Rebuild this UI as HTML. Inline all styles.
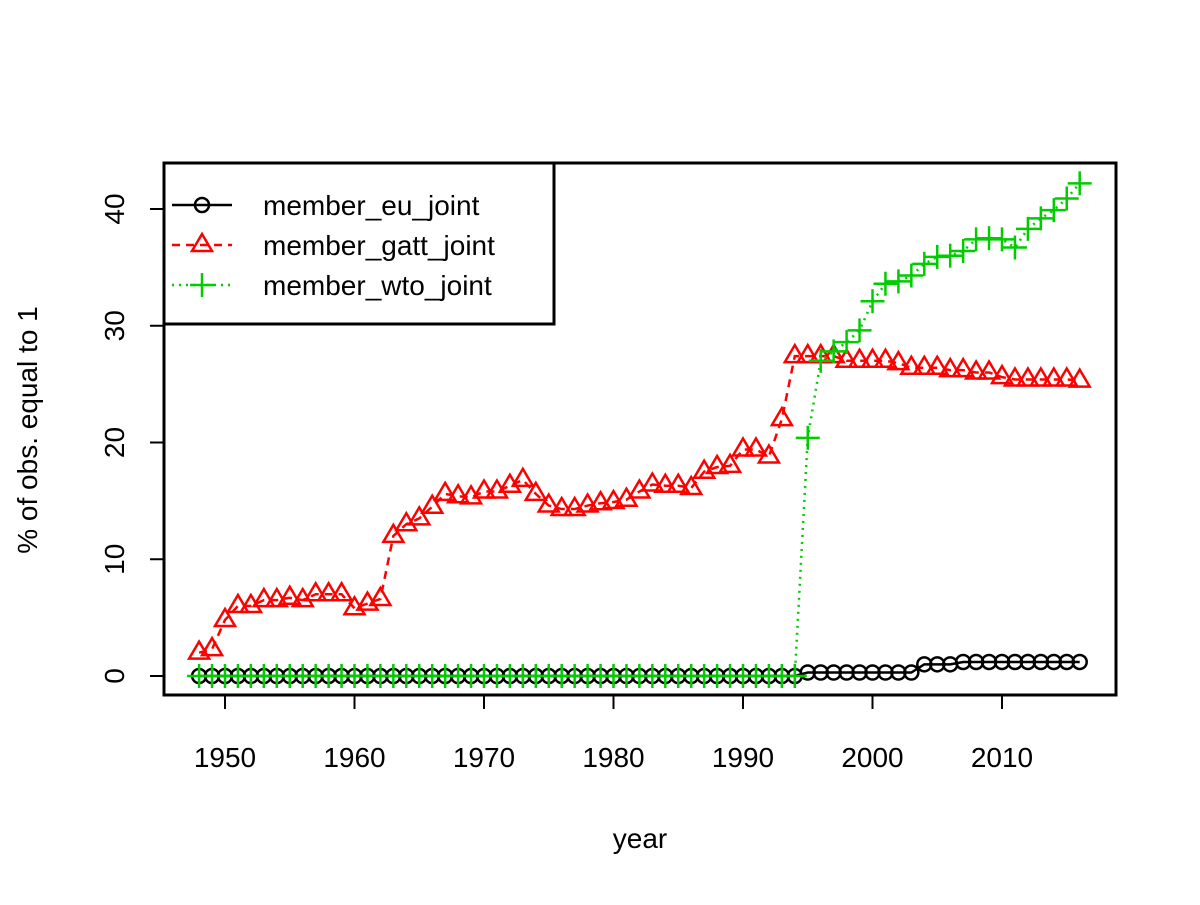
<!DOCTYPE html>
<html><head><meta charset="utf-8"><style>body{margin:0;background:#fff}svg text{font-family:"Liberation Sans",Helvetica,sans-serif}</style></head>
<body>
<svg id="c" width="1200" height="900" xmlns="http://www.w3.org/2000/svg"></svg>
<script>
const years=[];for(let y=1948;y<=2016;y++)years.push(y);
const euValues=[0,0,0,0,0,0,0,0,0,0,0,0,0,0,0,0,0,0,0,0,0,0,0,0,0,0,0,0,0,0,0,0,0,0,0,0,0,0,0,0,0,0,0,0,0,0,0,0.3,0.3,0.3,0.3,0.3,0.3,0.3,0.3,0.3,1.0,1.0,1.0,1.2,1.2,1.2,1.2,1.2,1.2,1.2,1.2,1.2,1.2];
const gattValues=[2.0,2.3,4.8,6.0,6.0,6.5,6.5,6.7,6.5,7.0,7.0,7.0,5.8,6.2,6.6,12.0,13.0,13.5,14.5,15.6,15.4,15.3,15.8,15.8,16.3,16.8,15.6,14.6,14.3,14.3,14.6,14.8,14.9,15.1,15.8,16.4,16.3,16.3,16.1,17.5,17.9,18.0,19.4,19.4,18.8,22.0,27.4,27.4,27.4,27.4,27.0,27.0,27.0,27.0,26.8,26.4,26.4,26.4,26.2,26.2,26.0,26.0,25.6,25.4,25.4,25.4,25.4,25.4,25.3];
const wtoValues=[0,0,0,0,0,0,0,0,0,0,0,0,0,0,0,0,0,0,0,0,0,0,0,0,0,0,0,0,0,0,0,0,0,0,0,0,0,0,0,0,0,0,0,0,0,0,0,20.4,27.0,27.8,28.6,29.6,32.1,33.6,33.8,34.3,35.3,35.9,36.0,36.4,37.4,37.5,37.4,36.7,38.3,39.2,39.9,40.9,42.2];
const xTicks=[1950,1960,1970,1980,1990,2000,2010];
const yTicks=[0,10,20,30,40];
const NS="http://www.w3.org/2000/svg",svg=document.getElementById('c');
const X=v=>225+(v-1950)*12.95, Y=v=>676-v*11.675;
function mk(t,a,p){const e=document.createElementNS(NS,t);for(const k in a)e.setAttribute(k,a[k]);(p||svg).appendChild(e);return e;}
// frame
const fr=mk('rect',{x:164,y:163,width:952,height:532,fill:'none',stroke:'#000','stroke-width':3});


const xa=mk('g',{});


mk('line',{x1:X(1950),x2:X(2010),y1:695,y2:695,stroke:'#000','stroke-width':2},xa);
xTicks.forEach(t=>{mk('line',{x1:X(t),x2:X(t),y1:695,y2:709,stroke:'#000','stroke-width':2},xa);
 const tx=mk('text',{x:X(t),y:767,'font-size':28,'text-anchor':'middle'},xa);tx.textContent=t;
 
 });
const ya=mk('g',{});


yTicks.forEach(t=>{mk('line',{x1:150,x2:164,y1:Y(t),y2:Y(t),stroke:'#000','stroke-width':2},ya);
 const tx=mk('text',{x:0,y:0,'font-size':28,'text-anchor':'middle',transform:`translate(124,${Y(t)}) rotate(-90)`},ya);tx.textContent=t;
 
 });
let t1=mk('text',{x:640,y:848,'font-size':28,'text-anchor':'middle'});t1.textContent='year';


let t2=mk('text',{x:0,y:0,'font-size':28,'text-anchor':'middle',transform:'translate(37,430) rotate(-90)'});t2.textContent='% of obs. equal to 1';


function marker(type,x,y,col,g){
 if(type==='o')mk('circle',{cx:x,cy:y,r:7,fill:'none',stroke:col,'stroke-width':2.5},g);
 else if(type==='t')mk('polygon',{points:`${x},${y-11} ${x-10},${y+6} ${x+10},${y+6}`,fill:'none',stroke:col,'stroke-width':2.5},g);
 else {mk('line',{x1:x-12,x2:x+12,y1:y,y2:y,stroke:col,'stroke-width':2.5},g);mk('line',{x1:x,x2:x,y1:y-12,y2:y+12,stroke:col,'stroke-width':2.5},g);}
}
const series=[[euValues,'#000','o','','series-eu'],[gattValues,'#ff0000','t','8,6','series-gatt'],[wtoValues,'#00cc00','+','2,5','series-wto']];
series.forEach(([vals,col,m,dash,name])=>{
 const g=mk('g',{});
 
 
 mk('polyline',{points:vals.map((v,i)=>X(years[i])+','+Y(v)).join(' '),fill:'none',stroke:col,'stroke-width':2.5,'stroke-dasharray':dash},g);
 vals.forEach((v,i)=>marker(m,X(years[i]),Y(v),col,g));
});
// legend
const lg=mk('g',{});


mk('rect',{x:164,y:163,width:390,height:161,fill:'#fff',stroke:'#000','stroke-width':3},lg);
[['member_eu_joint','#000','o',''],['member_gatt_joint','#ff0000','t','8,6'],['member_wto_joint','#00cc00','+','2,5']].forEach((e,i)=>{
 const y=205+i*40;const g=mk('g',{},lg);
 
 
 mk('line',{x1:172,x2:232,y1:y,y2:y,stroke:e[1],'stroke-width':2.5,'stroke-dasharray':e[3]},g);
 marker(e[2],202,y,e[1],g);
 const tx=mk('text',{x:263,y:y+10,'font-size':28},g);tx.textContent=e[0];
});
</script>
</body></html>
